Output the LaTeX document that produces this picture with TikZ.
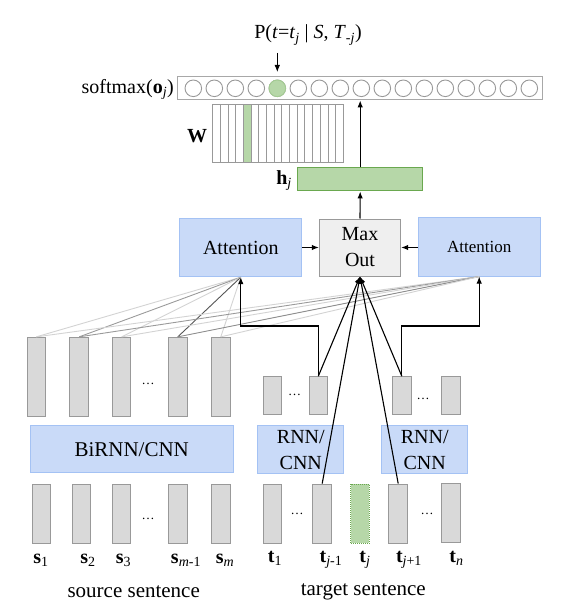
\documentclass[tikz,border=0pt]{standalone}
\usepackage{fontspec}
\setmainfont{Liberation Serif}
\usetikzlibrary{arrows.meta, positioning}
\definecolor{encblue}{HTML}{C9DAF8}
\definecolor{encedge}{HTML}{A4C2F4}
\definecolor{vecgray}{HTML}{D9D9D9}
\definecolor{vecedge}{HTML}{999999}
\definecolor{maxgray}{HTML}{EFEFEF}
\definecolor{hgreen}{HTML}{B6D7A8}
\definecolor{hedge}{HTML}{6AA84F}
\definecolor{attlight}{HTML}{D3D3D3}
\definecolor{attmid}{HTML}{9A9A9A}
\definecolor{attdark}{HTML}{555555}

\begin{document}
\begin{tikzpicture}[x=1pt, y=-1pt,
    every node/.style={inner sep=0pt},
    vec/.style={draw=vecedge, fill=vecgray, line width=1pt, minimum width=18.5pt},
    tallvec/.style={vec, minimum height=78.7pt},
    lowvec/.style={vec, minimum height=59.3pt},
    shortvec/.style={vec, minimum height=37.8pt},
    enc/.style={draw=encedge, fill=encblue, line width=1pt, align=center},
    txt/.style={font=\fontsize{20}{26}\selectfont},
    bigtxt/.style={font=\fontsize{21}{26}\selectfont},
    dotstxt/.style={font=\fontsize{13}{15}\selectfont},
    arr/.style={-{Latex[length=7pt,width=5.5pt]}, line width=1.1pt},
    wline/.style={line width=0.9pt}]
    \useasboundingbox (0,0) rectangle (562,615);

    % Output layer: softmax bar and W
    \node[draw=vecedge!85, line width=1pt, minimum width=365pt,
    minimum height=23.3pt] (soft) at (360.2,88.3) {};
    \foreach \i in {0,...,16}
        \node[circle, draw=vecedge, fill=white, line width=0.9pt,
        minimum size=16.6pt] (c\i) at ({193.3+21*\i},88.3) {};
    \node[circle, draw=hgreen!75!hedge, fill=hgreen, line width=0.9pt,
    minimum size=16.6pt] (cj) at (c4) {};
    \node[txt, anchor=base east] (softlbl) at (174,93.3)
    {softmax(\textbf{o}\textsubscript{\textit{j}})};
    \node[txt, anchor=base] (plbl) at (308,39)
    {P(\textit{t}=\textit{t}\textsubscript{\textit{j}} | \textit{S},
    \textit{T}\textsubscript{-\textit{j}})};
    \coordinate (pdrop) at (277.3,53);
    \coordinate (ptip) at (277.3,72);
    \draw[arr, line width=0.9pt] (pdrop) -- (ptip);

    \fill[hgreen] (243.5,105) rectangle (251.2,162.7);
    \foreach \col in {0,...,16}
        \draw[vecedge, line width=1pt] ({212.7+7.69*\col},105)
        rectangle ++(7.69,57.7);
    \node[minimum width=130.7pt, minimum height=57.7pt] (wmat)
    at (278,133.8) {};
    \node[txt, anchor=center] (wlbl) at (197,136) {\textbf{W}};

    % Hidden vector h_j
    \node[draw=hedge, fill=hgreen, line width=1pt, minimum width=125pt,
    minimum height=23.3pt] (hj) at (360.2,179.3) {};
    \node[txt, anchor=base east] (hlbl) at (292,184.5)
    {\textbf{h}\textsubscript{\textit{j}}};

    % Attention and max out
    \node[enc, txt, minimum width=121.7pt, minimum height=58.4pt]
    (attL) at (240.8,247.5) {Attention};
    \node[draw=vecedge, fill=maxgray, line width=1pt, align=center, txt,
    minimum width=81.4pt, minimum height=57pt] (maxout) at (360,247.5)
    {Max\\Out};
    \node[enc, font=\fontsize{17}{20}\selectfont, minimum width=121.7pt,
    minimum height=58.7pt] (attR) at (479.2,246.7) {Attention};

    \draw[arr] (attL.east) -- (maxout.west);
    \draw[arr] (attR.west |- maxout.east) -- (maxout.east);
    \draw[arr] (maxout.north) -- (hj.south);
    \draw[arr] (hj.north) -- (soft.south);

    % Source sentence
    \node[tallvec] (su1) at (36.3,376.7) {};
    \node[tallvec] (su2) at (79.2,376.7) {};
    \node[tallvec] (su3) at (121.7,376.7) {};
    \node[tallvec] (su4) at (177.8,376.7) {};
    \node[tallvec] (su5) at (220.8,376.7) {};
    \node[dotstxt] (sudots) at (148,384) {\ldots};

    \node[enc, bigtxt, minimum width=203.3pt, minimum height=46.7pt]
    (birnn) at (131.7,449.3) {BiRNN/CNN};

    \node[lowvec] (sl1) at (41.5,513.7) {};
    \node[lowvec] (sl2) at (81.7,513.7) {};
    \node[lowvec] (sl3) at (121.7,513.7) {};
    \node[lowvec] (sl4) at (178,513.7) {};
    \node[lowvec] (sl5) at (220.8,513.7) {};
    \node[dotstxt] (sldots) at (148,519) {\ldots};

    \node[txt, anchor=base] (ls1) at (41,563) {\textbf{s}\textsubscript{1}};
    \node[txt, anchor=base] (ls2) at (88,563) {\textbf{s}\textsubscript{2}};
    \node[txt, anchor=base] (ls3) at (123.5,563)
    {\textbf{s}\textsubscript{3}};
    \node[txt, anchor=base] (ls4) at (186,563)
    {\textbf{s}\textsubscript{\textit{m}-1}};
    \node[txt, anchor=base] (ls5) at (225,563)
    {\textbf{s}\textsubscript{\textit{m}}};
    \node[bigtxt] (srclbl) at (133.7,592) {source sentence};

    % Target sentence
    \node[shortvec] (tu1) at (272.5,395.6) {};
    \node[shortvec] (tu2) at (318.3,395.6) {};
    \node[shortvec] (tu3) at (401.8,395.6) {};
    \node[shortvec] (tu4) at (451,395.6) {};
    \node[dotstxt] (tudotsL) at (294.5,395) {\ldots};
    \node[dotstxt] (tudotsR) at (423,399) {\ldots};

    \node[enc, txt, minimum width=86.3pt, minimum height=48.3pt]
    (rnnL) at (300.8,449.8) {RNN/\\CNN};
    \node[enc, txt, minimum width=86pt, minimum height=48.3pt]
    (rnnR) at (424.7,449.8) {RNN/\\CNN};

    \node[lowvec] (tl1) at (272.5,513.7) {};
    \node[lowvec] (tl2) at (322.2,513.7) {};
    \node[vec, draw=hedge, fill=hgreen, densely dotted,
    minimum height=59.3pt] (tl3) at (360.2,513.7) {};
    \node[lowvec] (tl4) at (398.2,513.7) {};
    \node[lowvec] (tl5) at (451,512.7) {};
    \node[dotstxt] (tldotsL) at (297,514) {\ldots};
    \node[dotstxt] (tldotsR) at (427,514) {\ldots};

    \node[txt, anchor=base] (lt1) at (275,562) {\textbf{t}\textsubscript{1}};
    \node[txt, anchor=base] (lt2) at (331,562)
    {\textbf{t}\textsubscript{\textit{j}-1}};
    \node[txt, anchor=base] (lt3) at (365,562)
    {\textbf{t}\textsubscript{\textit{j}}};
    \node[txt, anchor=base] (lt4) at (409,562)
    {\textbf{t}\textsubscript{\textit{j}+1}};
    \node[txt, anchor=base] (lt5) at (456.5,562)
    {\textbf{t}\textsubscript{\textit{n}}};
    \node[bigtxt] (tgtlbl) at (363.3,592) {target sentence};

    % Attention weights over the source
    \draw[wline, attlight] (su1.north) -- (attL.south);
    \draw[wline, attmid] (su2.north) -- (attL.south);
    \draw[wline, attlight] (su3.north) -- (attL.south);
    \draw[wline, attdark] (su4.north) -- (attL.south);
    \draw[wline, attlight] (su5.north) -- (attL.south);
    \draw[wline, attlight] (su1.north) -- (attR.south);
    \draw[wline, attmid] (su2.north) -- (attR.south);
    \draw[wline, attlight] (su3.north) -- (attR.south);
    \draw[wline, attmid!80!attdark] (su4.north) -- (attR.south);
    \draw[wline, attlight] (su5.north) -- (attR.south);

    % Target context into attention and max out
    \coordinate (kneeL) at (240.8,326);
    \coordinate (kneeR) at (479.2,326);
    \draw[arr] (tu2.north) |- (kneeL) -- (attL.south);
    \draw[arr] (tu3.north) |- (kneeR) -- (attR.south);
    \draw[arr] (tu2.north) -- (maxout.south);
    \draw[arr] (tu3.north) -- (maxout.south);
    \draw[arr] (tl2.north) -- (maxout.south);
    \draw[arr] (tl4.north) -- (maxout.south);
\end{tikzpicture}
\end{document}
